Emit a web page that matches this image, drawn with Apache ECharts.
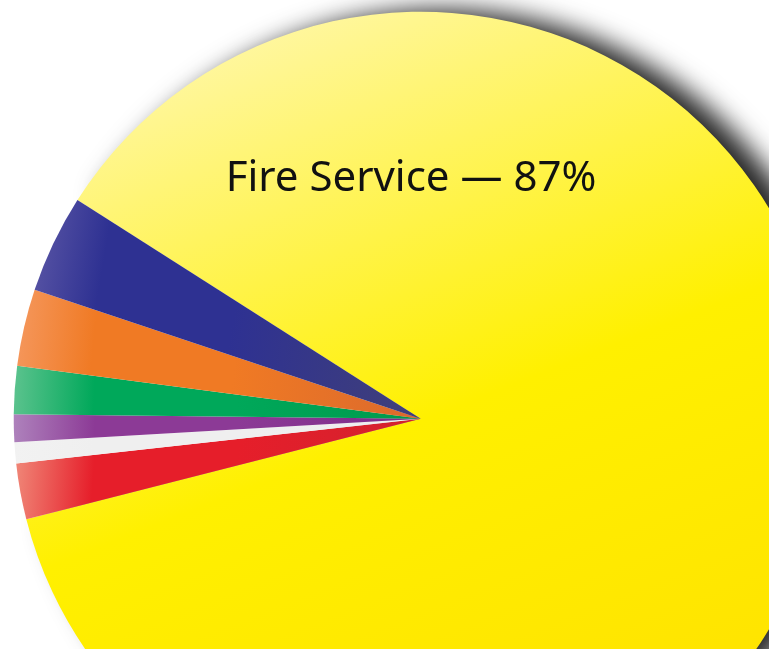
<!DOCTYPE html>
<html>
<head>
<meta charset="utf-8">
<script src="https://cdn.jsdelivr.net/npm/echarts@6/dist/echarts.min.js"></script>
<style>
  html, body { margin: 0; padding: 0; background: #fff; }
  #chart { width: 769px; height: 649px; }
</style>
</head>
<body>
<div id="chart"></div>
<script>
// slices in drawing order (clockwise from the upper-left edge of the big slice)
const names = ['Fire Service', 'Red', 'White', 'Purple', 'Green', 'Orange', 'Navy'];
const values = [87, 2.22, 0.83, 1.1, 1.9, 3.05, 3.9];
// light edge, main colour, inner end
const colours = [
    ['#FFF7A6', '#FFF000', '#FFE100'],
    ['#F08A7A', '#E61E2A', '#D2222E'],
    ['#F2F2F2', '#EFEFEF', '#EEEEEE'],
    ['#AE82BC', '#8C3A96', '#7D2C88'],
    ['#5CC38E', '#00A85A', '#009A4C'],
    ['#F5985E', '#F07A24', '#DC6A2C'],
    ['#5C57A6', '#2E3192', '#3E3E7C']
];

const chart = echarts.init(document.getElementById('chart'));

const grad = (c, i) => {
    if (i === 0) {
        return new echarts.graphic.LinearGradient(0.3, 0, 0.7, 1, [
            { offset: 0, color: c[0] },
            { offset: 0.5, color: c[1] },
            { offset: 1, color: c[2] }
        ]);
    }
    return new echarts.graphic.LinearGradient(0, 0, 1, 0.3, [
        { offset: 0, color: c[0] },
        { offset: 0.2, color: c[1] },
        { offset: 0.55, color: c[1] },
        { offset: 1, color: c[2] }
    ]);
};

const data = names.map((n, i) => {
    const item = {
        name: n,
        value: values[i],
        itemStyle: { color: grad(colours[i], i) }
    };
    if (i === 0) {
        item.itemStyle.shadowColor = 'rgba(0,0,0,0.85)';
        item.itemStyle.shadowBlur = 26;
        item.itemStyle.shadowOffsetX = 22;
        item.itemStyle.shadowOffsetY = -2;
    }
    return item;
});

const option = {
    animation: false,
    series: [
        {
            type: 'pie',
            center: [420.7, 418.7],
            radius: 407,
            startAngle: 147.5,
            clockwise: true,
            label: { show: false },
            labelLine: { show: false },
            emphasis: { disabled: true },
            itemStyle: { borderWidth: 0 },
            data: data
        }
    ],
    graphic: [
        {
            type: 'text',
            z: 100,
            x: 411,
            y: 179,
            style: {
                text: names[0] + ' \u2014 ' + values[0] + '%',
                font: '42px "Noto Sans"',
                fill: '#111',
                align: 'center',
                verticalAlign: 'middle'
            }
        }
    ]
};

option && chart.setOption(option);
</script>
</body>
</html>
